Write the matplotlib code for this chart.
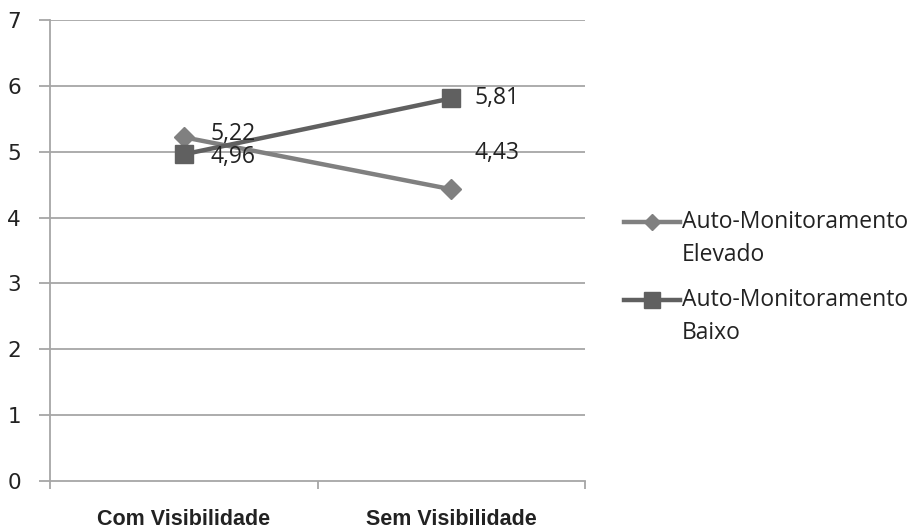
import matplotlib.pyplot as plt
from matplotlib.lines import Line2D

categories = ["Com Visibilidade", "Sem Visibilidade"]
elevado = [5.22, 4.43]
baixo = [4.96, 5.81]
labels_elevado = ["5,22", "4,43"]
labels_baixo = ["4,96", "5,81"]
series_names = [("Auto-Monitoramento", "Elevado"), ("Auto-Monitoramento", "Baixo")]
y_ticks = [0, 1, 2, 3, 4, 5, 6, 7]

W, H = 914, 531
fig = plt.figure(figsize=(W / 100, H / 100), dpi=100)
ax = fig.add_axes([50 / W, 1 - 481 / H, 535 / W, 461 / H])

grid_c = "#a6a6a6"
text_c = "#222222"
col_elev = "#808080"
col_baixo = "#606060"
x = list(range(len(categories)))

for yv in y_ticks[1:]:
    ax.axhline(yv, color=grid_c, lw=1.3, zorder=0)

ax.plot(x, elevado, color=col_elev, lw=3.2, marker="D", markersize=10, zorder=3)
ax.plot(x, baixo, color=col_baixo, lw=3.2, marker="s", markersize=13, zorder=4)

lab_font = dict(family="Open Sans", fontsize=16.5, color=text_c)
# data labels next to each point
ax.annotate(labels_elevado[0], (x[0], elevado[0]), xytext=(19, 2),
            textcoords="offset points", va="center", ha="left", zorder=5, **lab_font)
ax.annotate(labels_baixo[0], (x[0], baixo[0]), xytext=(19, -2),
            textcoords="offset points", va="center", ha="left", zorder=5, **lab_font)
ax.annotate(labels_baixo[1], (x[1], baixo[1]), xytext=(17, 0),
            textcoords="offset points", va="center", ha="left", zorder=5, **lab_font)
ax.annotate(labels_elevado[1], (x[1], elevado[1]), xytext=(17, 26),
            textcoords="offset points", va="center", ha="left", zorder=5, **lab_font)

ax.set_xlim(-0.5, 1.5)
ax.set_ylim(0, 7)
ax.set_yticks(y_ticks)
ax.set_xticks([-0.5, 0.5, 1.5])
ax.set_xticklabels([])
ax.set_xticks(x, minor=True)
ax.set_xticklabels(categories, minor=True, family="Liberation Sans",
                   fontsize=15.5, fontweight="bold", color=text_c)
ax.tick_params(axis="x", which="minor", length=0, pad=20.5)
ax.tick_params(axis="x", which="major", length=6, width=1.3, color=grid_c)
ax.tick_params(axis="y", length=8, width=1.3, color=grid_c, pad=13,
               labelsize=15.5, labelcolor=text_c)
for t in ax.get_yticklabels():
    t.set_family("DejaVu Sans")

for s in ["top", "right"]:
    ax.spines[s].set_visible(False)
for s in ["left", "bottom"]:
    ax.spines[s].set_color(grid_c)
    ax.spines[s].set_linewidth(1.3)

# legend, with the key on the first line of each two-line name
leg_entries = [(col_elev, "D", 8, 222), (col_baixo, "s", 11, 300)]
for (c, m, ms, yp), (l1, l2) in zip(leg_entries, series_names):
    yf = 1 - yp / H
    fig.add_artist(Line2D([624 / W, 680 / W], [yf, yf], color=c, lw=3.2,
                          transform=fig.transFigure))
    fig.add_artist(Line2D([652 / W], [yf], color=c, marker=m, markersize=ms,
                          transform=fig.transFigure))
    fig.text(682 / W, yf, l1, va="center", ha="left", **lab_font)
    fig.text(682 / W, 1 - (yp + 33) / H, l2, va="center", ha="left", **lab_font)

fig.savefig("out.png", dpi=100)
